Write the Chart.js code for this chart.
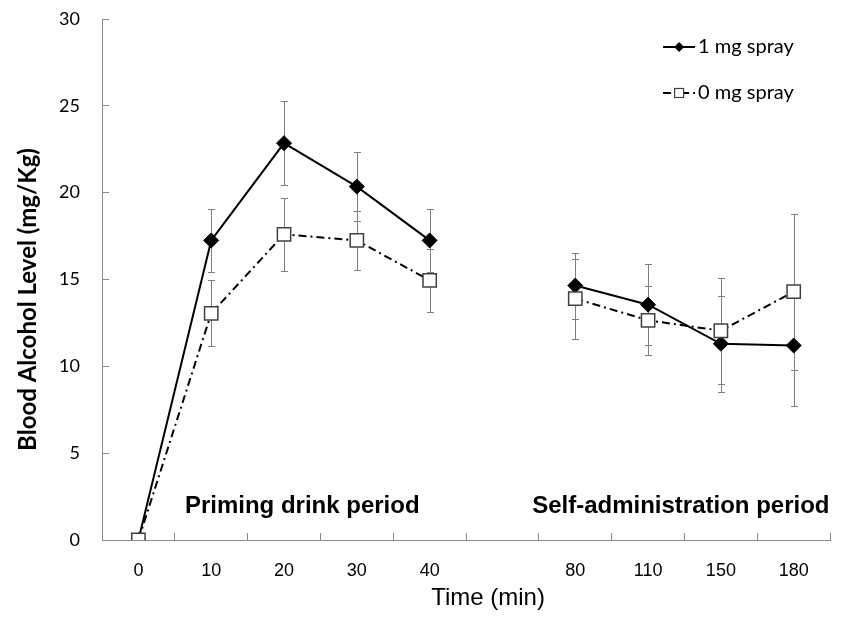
<!DOCTYPE html>
<html>
<head>
<meta charset="utf-8">
<script src="https://cdn.jsdelivr.net/npm/chart.js@4.4.0/dist/chart.umd.min.js"></script>
<style>
  html, body { margin: 0; padding: 0; background: #fff; }
  #wrap { width: 841px; height: 618px; }
</style>
</head>
<body>
<div id="wrap"><canvas id="grafica"></canvas></div>
<script>
// Tiempo (min); la categoría vacía separa los dos periodos
const tiempos = ['0', '10', '20', '30', '40', '', '80', '110', '150', '180'];

// Nivel de alcohol en sangre (mg/Kg)
const spray1mg = [0, 17.25, 22.85, 20.35, 17.25, null, 14.65, 13.55, 11.3, 11.2];
const spray0mg = [0, 13.05, 17.6, 17.25, 14.95, null, 13.9, 12.65, 12.05, 14.3];

// Barras de error (±)
const error1mg = [0, 1.8, 2.4, 2.0, 1.8, null, 1.9, 2.35, 2.75, 3.5];
const error0mg = [0, 1.9, 2.1, 1.7, 1.8, null, 2.3, 2.0, 3.05, 4.5];

// Marcas del eje Y
const marcasY = [0, 5, 10, 15, 20, 25, 30];

// Textos
const periodos = ['Priming drink period', 'Self-administration period'];
const tituloX = 'Time (min)';
const tituloY = 'Blood Alcohol Level (mg/Kg)';

const GRIS_EJE = '#898989';
const GRIS_ERROR = '#7f7f7f';

// Dibuja las barras de error detrás de las líneas
const barrasError = {
  id: 'barrasError',
  beforeDatasetsDraw(chart) {
    const { ctx, scales: { x, y } } = chart;
    ctx.save();
    ctx.strokeStyle = GRIS_ERROR;
    ctx.lineWidth = 1;
    chart.data.datasets.forEach(ds => {
      ds.data.forEach((v, j) => {
        const e = ds.errores[j];
        if (v == null || !e) return;
        const px = Math.round(x.getPixelForValue(j)) + 0.5;
        const arriba = Math.round(y.getPixelForValue(v + e)) + 0.5;
        const abajo = Math.round(y.getPixelForValue(v - e)) + 0.5;
        ctx.beginPath();
        ctx.moveTo(px, arriba);
        ctx.lineTo(px, abajo);
        ctx.moveTo(px - 3.5, arriba);
        ctx.lineTo(px + 3.5, arriba);
        ctx.moveTo(px - 3.5, abajo);
        ctx.lineTo(px + 3.5, abajo);
        ctx.stroke();
      });
    });
    ctx.restore();
  }
};

// Títulos de ejes, textos de periodo y leyenda
const textosYLeyenda = {
  id: 'textosYLeyenda',
  afterDraw(chart) {
    const { ctx, chartArea, scales: { x, y } } = chart;
    ctx.save();
    ctx.fillStyle = '#000';
    ctx.textAlign = 'center';
    ctx.textBaseline = 'middle';

    // Títulos de los ejes
    ctx.font = '24px "Liberation Sans"';
    ctx.fillText(tituloX, (chartArea.left + chartArea.right) / 2 + 22, chartArea.bottom + 58);
    ctx.save();
    ctx.translate(chartArea.left - 74, (chartArea.top + chartArea.bottom) / 2 + 20);
    ctx.rotate(-Math.PI / 2);
    ctx.font = 'bold 24px Lato';
    ctx.fillText(tituloY, 0, 0);
    ctx.restore();

    // Periodos
    ctx.font = 'bold 24px "Liberation Sans"';
    ctx.fillText(periodos[0], x.getPixelForValue(2.25), y.getPixelForValue(1.95));
    ctx.fillText(periodos[1], x.getPixelForValue(7.45), y.getPixelForValue(1.95));

    // Leyenda
    const x0 = chartArea.right - 167;
    const x1 = chartArea.right - 135;
    const xm = (x0 + x1) / 2;
    const filas = [chartArea.top + 28, chartArea.top + 74];
    ctx.textAlign = 'left';
    ctx.font = '20px Lato';

    chart.data.datasets.forEach((ds, i) => {
      const fy = filas[i];
      ctx.strokeStyle = '#000';
      ctx.lineWidth = 2;
      ctx.setLineDash(ds.borderDash || []);
      ctx.beginPath();
      ctx.moveTo(x0, fy);
      ctx.lineTo(x1, fy);
      ctx.stroke();
      ctx.setLineDash([]);
      if (ds.pointStyle === 'rectRot') {
        ctx.fillStyle = '#000';
        ctx.beginPath();
        ctx.moveTo(xm - 5, fy);
        ctx.lineTo(xm, fy - 5);
        ctx.lineTo(xm + 5, fy);
        ctx.lineTo(xm, fy + 5);
        ctx.closePath();
        ctx.fill();
      } else {
        ctx.fillStyle = '#fff';
        ctx.strokeStyle = '#404040';
        ctx.lineWidth = 1.2;
        ctx.fillRect(xm - 4.5, fy - 4.5, 9, 9);
        ctx.strokeRect(xm - 4.5, fy - 4.5, 9, 9);
      }
      ctx.fillStyle = '#000';
      ctx.fillText(ds.label, x1 + 3, fy);
    });
    ctx.restore();
  }
};

new Chart(document.getElementById('grafica'), {
  type: 'line',
  data: {
    labels: tiempos,
    datasets: [
      {
        label: '1 mg spray',
        data: spray1mg,
        errores: error1mg,
        borderColor: '#000',
        backgroundColor: '#000',
        borderWidth: 2,
        pointStyle: 'rectRot',
        pointRadius: 7.5,
        pointBorderWidth: 1,
        pointBorderColor: '#000',
        pointBackgroundColor: '#000',
        spanGaps: false,
        tension: 0,
        order: 1
      },
      {
        label: '0 mg spray',
        data: spray0mg,
        errores: error0mg,
        borderColor: '#000',
        backgroundColor: '#fff',
        borderWidth: 2,
        borderDash: [8, 4, 2, 4],
        pointStyle: 'rect',
        pointRadius: 9.4,
        pointBorderWidth: 1.5,
        pointBorderColor: '#404040',
        pointBackgroundColor: '#fff',
        spanGaps: false,
        tension: 0,
        order: 0
      }
    ]
  },
  options: {
    responsive: true,
    maintainAspectRatio: false,
    animation: false,
    layout: {
      padding: { left: 12, top: 19, right: 8, bottom: 0 }
    },
    plugins: {
      legend: { display: false },
      tooltip: { enabled: false }
    },
    scales: {
      x: {
        type: 'category',
        offset: true,
        grid: {
          offset: true,
          drawOnChartArea: false,
          tickLength: -7,
          color: GRIS_EJE
        },
        border: { color: GRIS_EJE, width: 1 },
        ticks: {
          padding: 27,
          color: '#000',
          maxRotation: 0,
          autoSkip: false,
          font: { family: '"Liberation Sans"', size: 18 }
        },
        afterFit(scale) { scale.height = 78; }
      },
      y: {
        min: 0,
        max: 30,
        grid: {
          drawOnChartArea: false,
          tickLength: -7,
          color: GRIS_EJE
        },
        border: { color: GRIS_EJE, width: 1 },
        ticks: {
          padding: 29,
          color: '#000',
          font: { family: 'Lato', size: 18 }
        },
        afterBuildTicks(scale) {
          scale.ticks = marcasY.map(v => ({ value: v }));
        },
        afterFit(scale) {
          scale.width = 90;
          scale.paddingTop = 11;
          scale.paddingBottom = 11;
        }
      }
    }
  },
  plugins: [barrasError, textosYLeyenda]
});
</script>
</body>
</html>
